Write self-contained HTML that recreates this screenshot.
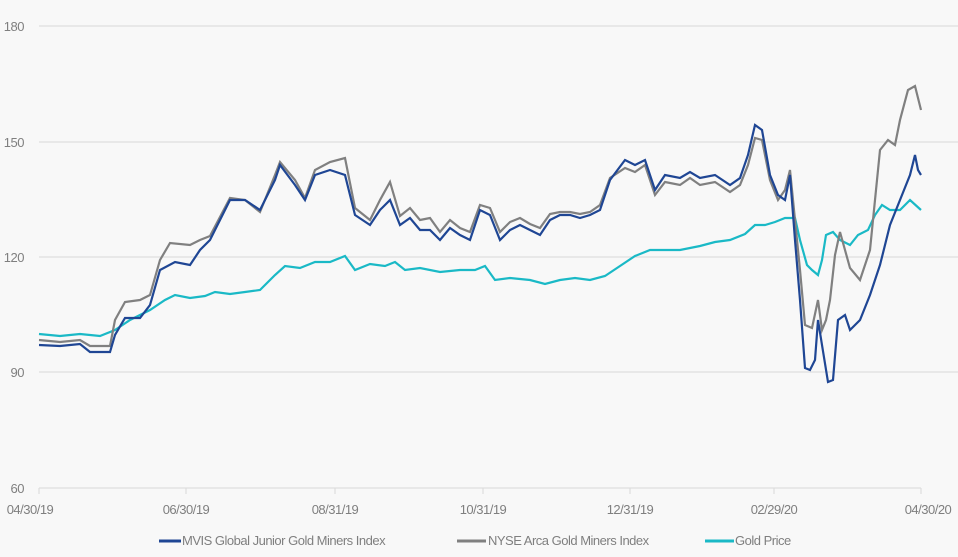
<!DOCTYPE html>
<html><head><style>
html,body{margin:0;padding:0;background:#f8f8f8;}
body{width:958px;height:552px;overflow:hidden;font-family:"Liberation Sans",sans-serif;}
text{font-family:"Liberation Sans",sans-serif;fill:#7f7f7f;font-size:13px;letter-spacing:-0.5px}
</style></head><body>
<svg width="958" height="552" viewBox="0 0 958 552">
<rect width="958" height="552" fill="#f8f8f8"/>
<g stroke="#d9d9d9" stroke-width="1">
<line x1="39" y1="26" x2="958" y2="26"/>
<line x1="39" y1="142" x2="958" y2="142"/>
<line x1="39" y1="257" x2="958" y2="257"/>
<line x1="39" y1="372" x2="958" y2="372"/>
<line x1="39" y1="488" x2="921" y2="488"/>
<line x1="39" y1="488" x2="39" y2="494"/><line x1="186" y1="488" x2="186" y2="494"/>
<line x1="335" y1="488" x2="335" y2="494"/><line x1="483" y1="488" x2="483" y2="494"/>
<line x1="630" y1="488" x2="630" y2="494"/><line x1="774" y1="488" x2="774" y2="494"/>
<line x1="921" y1="488" x2="921" y2="494"/>
</g>
<g text-anchor="end"><text x="24" y="31">180</text><text x="24" y="147">150</text><text x="24" y="262">120</text><text x="24" y="377">90</text><text x="24" y="493">60</text></g>
<g text-anchor="middle"><text x="30" y="514">04/30/19</text><text x="186" y="514">06/30/19</text><text x="335" y="514">08/31/19</text><text x="483" y="514">10/31/19</text><text x="630" y="514">12/31/19</text><text x="774" y="514">02/29/20</text><text x="928" y="514">04/30/20</text></g>
<polyline fill="none" stroke="#1ab9c6" stroke-width="2.2" points="39,334 60,336 80,334 100,336 115,330 130,320 150,310 165,300 175,295 190,298 205,296 215,292 230,294 245,292 260,290 275,275 285,266 300,268 315,262 330,262 345,256 355,270 370,264 385,266 395,262 405,270 420,268 440,272 460,270 475,270 485,266 495,280 510,278 530,280 545,284 560,280 575,278 590,280 605,276 620,266 635,256 650,250 665,250 680,250 700,246 715,242 730,240 745,234 755,225 765,225 775,222 785,218 795,218 800,240 807,265 812,270 818,275 822,260 826,235 833,232 840,240 850,245 858,235 868,230 875,215 882,205 890,210 900,210 910,200 921,210"/>
<polyline fill="none" stroke="#808080" stroke-width="2.2" points="39,340 60,342 80,340 90,346 110,346 115,320 125,302 140,300 150,295 160,260 170,243 190,245 200,240 210,236 230,198 245,200 260,212 275,175 280,162 295,180 305,198 315,170 330,162 345,158 355,208 370,220 380,200 390,182 400,216 410,208 420,220 430,218 440,232 450,220 460,228 470,232 480,205 490,208 500,232 510,222 520,218 530,224 540,228 550,214 560,212 570,212 580,214 590,212 600,205 610,178 625,168 635,172 645,165 655,195 665,182 680,185 690,178 700,185 715,182 730,192 740,185 748,165 755,138 762,140 770,180 778,200 785,190 790,170 795,220 800,270 805,325 812,328 818,300 822,330 826,320 830,300 835,255 840,232 850,268 860,280 870,250 880,150 888,140 895,145 900,120 908,90 915,86 921,110"/>
<polyline fill="none" stroke="#1f4694" stroke-width="2.2" points="39,345 60,346 80,344 90,352 110,352 115,335 125,318 140,318 150,305 160,270 175,262 190,265 200,250 210,240 230,200 245,200 260,210 275,180 280,165 295,185 305,200 315,175 330,170 345,175 355,215 370,225 380,210 390,200 400,225 410,218 420,230 430,230 440,240 450,228 460,235 470,240 480,210 490,215 500,240 510,230 520,225 530,230 540,235 550,220 560,215 570,215 580,218 590,215 600,210 610,180 625,160 635,165 645,160 655,190 665,175 680,178 690,172 700,178 715,175 730,185 740,178 748,155 755,125 762,130 770,175 778,195 785,200 790,175 795,240 800,300 805,368 810,370 815,360 818,320 822,345 828,382 833,380 838,320 845,315 850,330 860,320 870,295 880,265 890,225 900,200 910,175 915,155 918,170 921,175"/>
<g>
<line x1="159" y1="541" x2="181" y2="541" stroke="#1f4694" stroke-width="3"/><text x="182" y="545">MVIS Global Junior Gold Miners Index</text>
<line x1="457" y1="541" x2="486" y2="541" stroke="#808080" stroke-width="3"/><text x="488" y="545">NYSE Arca Gold Miners Index</text>
<line x1="705" y1="541" x2="734" y2="541" stroke="#1ab9c6" stroke-width="3"/><text x="735" y="545">Gold Price</text>
</g>
</svg>
</body></html>
